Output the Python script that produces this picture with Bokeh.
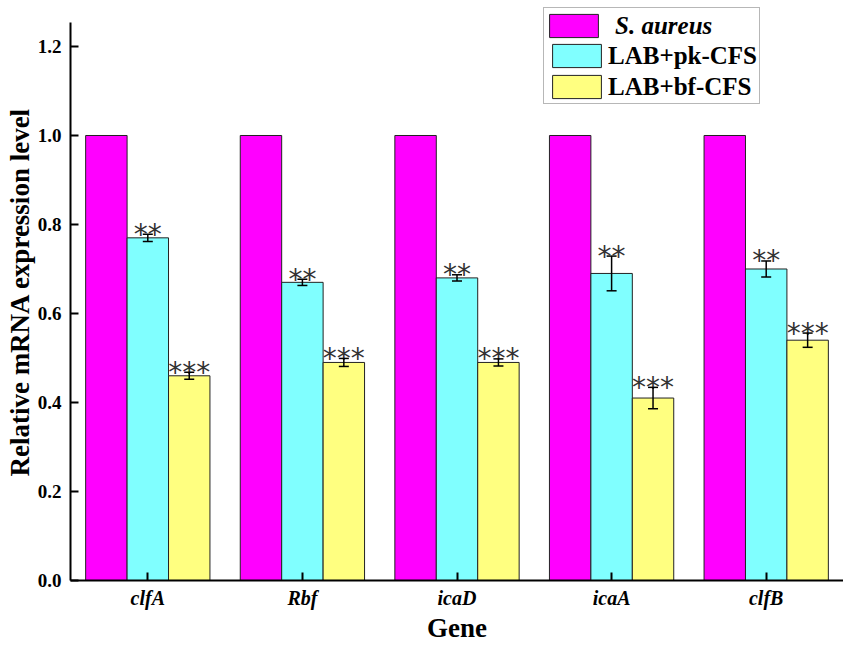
from bokeh.plotting import figure
from bokeh.models import (Range1d, FixedTicker, ColumnDataSource, Whisker, TeeHead,
                          Legend, LegendItem, NumeralTickFormatter)
from bokeh.core.properties import value
from bokeh.embed import file_html
from bokeh.resources import INLINE
import numpy as np

# ---- data ----
genes = ["clfA", "Rbf", "icaD", "icaA", "clfB"]
series_names = ["S. aureus", "LAB+pk-CFS", "LAB+bf-CFS"]
saureus = [1.0, 1.0, 1.0, 1.0, 1.0]
pk_cfs = [0.77, 0.67, 0.68, 0.69, 0.70]
pk_err = [0.008, 0.007, 0.007, 0.039, 0.018]
bf_cfs = [0.46, 0.49, 0.49, 0.41, 0.54]
bf_err = [0.008, 0.009, 0.008, 0.024, 0.016]
pk_sig = ["**", "**", "**", "**", "**"]
bf_sig = ["***", "***", "***", "***", "***"]
y_ticks = [0.0, 0.2, 0.4, 0.6, 0.8, 1.0, 1.2]
y_axis_top = 1.254
x_title = "Gene"
y_title = "Relative mRNA expression level"

colors = ["#FF00FF", "#80FFFF", "#FFFF80"]
SERIF = "Liberation Serif"

p = figure(width=843, height=645, x_range=Range1d(-0.5, 4.5), y_range=Range1d(0, 1.2966),
           output_backend="svg", toolbar_location=None,
           min_border_left=70, min_border_right=0, min_border_top=3, min_border_bottom=65)
p.outline_line_color = None
p.xgrid.visible = False
p.ygrid.visible = False
p.background_fill_color = "white"

bw = 0.268
idx = np.arange(len(genes))
all_vals = [saureus, pk_cfs, bf_cfs]
renderers = []
for k, vals in enumerate(all_vals):
    src = ColumnDataSource(dict(x=idx + (k - 1) * bw, top=vals))
    r = p.vbar(x="x", top="top", width=bw, bottom=0, source=src,
               fill_color=colors[k], line_color="#222222", line_width=1)
    renderers.append(r)

# transparent placeholder used only for the first legend row (its glyph comes from leg2)
blank = p.vbar(x=[], top=[], width=bw, fill_alpha=0, line_alpha=0)

for k, (vals, errs, sig) in enumerate([(pk_cfs, pk_err, pk_sig), (bf_cfs, bf_err, bf_sig)], start=1):
    v = np.array(vals)
    e = np.array(errs)
    src = ColumnDataSource(dict(x=idx + (k - 1) * bw, upper=v + e, lower=v - e, sig=sig))
    w = Whisker(base="x", upper="upper", lower="lower", source=src, level="overlay",
                line_color="black", line_width=1.5,
                upper_head=TeeHead(size=10, line_width=1.5, line_color="black"),
                lower_head=TeeHead(size=10, line_width=1.5, line_color="black"))
    p.add_layout(w)
    p.text(x="x", y="upper", text="sig", source=src, text_font=value("DejaVu Sans"),
           text_font_size="28px", text_align="center", text_baseline="alphabetic",
           y_offset=0, text_color="#333333")

# axes
for ax in (p.xaxis, p.yaxis):
    ax.axis_line_width = 2
    ax.axis_line_color = "black"
    ax.major_tick_line_width = 2
    ax.major_tick_line_color = "black"
    ax.major_tick_in = 8
    ax.major_tick_out = 0
    ax.minor_tick_line_color = None
    ax.axis_label_text_font = SERIF
    ax.axis_label_text_font_style = "bold"
    ax.axis_label_text_font_size = "27px"
    ax.axis_label_text_color = "black"
    ax.major_label_text_font = SERIF
    ax.major_label_text_color = "black"

p.xaxis.ticker = FixedTicker(ticks=list(range(len(genes))))
p.xaxis.major_label_overrides = {i: g for i, g in enumerate(genes)}
p.xaxis.major_label_text_font_style = "bold italic"
p.xaxis.major_label_text_font_size = "20px"
p.xaxis.major_label_standoff = 6
p.xaxis.axis_label = x_title
p.xaxis.axis_label_standoff = 1

p.yaxis.ticker = FixedTicker(ticks=y_ticks)
p.yaxis.formatter = NumeralTickFormatter(format="0.0")
p.yaxis.bounds = (0, y_axis_top)
p.yaxis.major_label_text_font_style = "bold"
p.yaxis.major_label_text_font_size = "19px"
p.yaxis.major_label_standoff = 9
p.yaxis.axis_label = y_title
p.yaxis.axis_label_standoff = 0

# legend (location = bottom-left corner, relative to the frame)
common = dict(padding=2, spacing=2, margin=0, glyph_width=61, glyph_height=29,
              label_text_font=SERIF, label_text_font_size="25px", label_text_color="black")
leg1 = Legend(items=[LegendItem(label=" ", renderers=[blank]),
                     LegendItem(label=series_names[1], renderers=[renderers[1]]),
                     LegendItem(label=series_names[2], renderers=[renderers[2]])],
              location=(473, 476), label_standoff=1, label_text_font_style="bold",
              border_line_color="#707070", border_line_width=1.5,
              background_fill_color="white", background_fill_alpha=1.0, **common)
leg2 = Legend(items=[LegendItem(label=series_names[0], renderers=[renderers[0]])],
              location=(473, 540), label_standoff=11, label_text_font_style="bold italic",
              border_line_color=None, background_fill_alpha=0.0, **common)
p.add_layout(leg1)
p.add_layout(leg2)

open("out.html", "w").write(file_html(p, INLINE))
